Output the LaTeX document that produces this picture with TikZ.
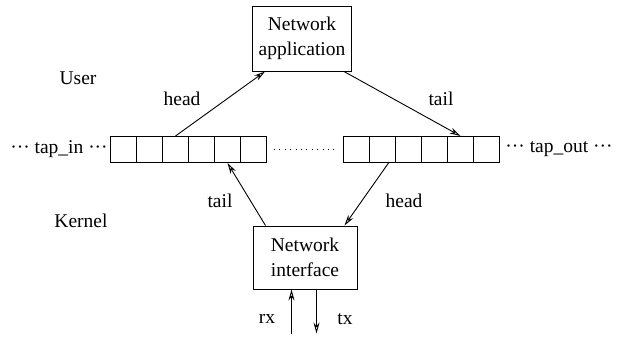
\documentclass[tikz,border=0pt]{standalone}
\usepackage{fontspec}
\setmainfont{Liberation Serif}
\newfontfamily\tms{Liberation Serif}
\usetikzlibrary{arrows.meta,calc}
\begin{document}
\begin{tikzpicture}[x=1pt,y=-1pt,
  every node/.style={font=\tms\fontsize{19.5}{24.5}\selectfont},
  box/.style={draw,line width=1pt,inner sep=0pt,align=center},
  cell/.style={draw,line width=1pt,minimum width=26pt,minimum height=26pt,inner sep=0pt,anchor=north west},
  lbl/.style={inner sep=0pt},
  conn/.style={line width=0.9pt,-{Stealth[open,length=11pt,width=6pt]}}]
\useasboundingbox (0,0) rectangle (617,346);
% boxes
\node[box,minimum width=99pt,minimum height=65pt] (app) at (302,38.5) {Network\\application};
\node[box,minimum width=104pt,minimum height=63pt] (nic) at (305,257.5) {Network\\interface};
% buffers
\foreach \i in {1,...,6} {
  \node[cell] (L\i) at ({110+26*(\i-1)},136) {};
  \node[cell] (R\i) at ({343+26*(\i-1)},136) {};
}
% dotted between buffers
\draw[line width=1pt,dash pattern=on 1pt off 4.4pt] ($(L6.east)+(7,0)$) -- ($(R1.west)+(-5,0)$);
% labels
\node[lbl] (tapin) at (59,149) {\textperiodcentered\textperiodcentered\textperiodcentered{} tap\_in \textperiodcentered\textperiodcentered\textperiodcentered};
\node[lbl] (tapout) at (559,149) {\textperiodcentered\textperiodcentered\textperiodcentered{} tap\_out \textperiodcentered\textperiodcentered\textperiodcentered};
\node[lbl] (user) at (78,78) {User};
\node[lbl] (kernel) at (81,221) {Kernel};
\node[lbl] (h1) at (182,99) {head};
\node[lbl] (t1) at (441,99) {tail};
\node[lbl] (t2) at (220,201) {tail};
\node[lbl] (h2) at (404,201) {head};
\node[lbl] (rx) at (267,319) {rx};
\node[lbl] (tx) at (345,319) {tx};
% connector end points
\coordinate (appL) at ($(app.south west)+(13,0)$);
\coordinate (appR) at ($(app.south east)+(-8,0)$);
\coordinate (nicL) at ($(nic.north west)+(13,0)$);
\coordinate (nicR) at ($(nic.north east)+(-13,0)$);
\coordinate (rxin) at ($(nic.south west)+(39,0)$);
\coordinate (txout) at ($(nic.south west)+(64,0)$);
\coordinate (rxs) at ($(rxin)+(0,44)$);
\coordinate (txe) at ($(txout)+(0,44)$);
\coordinate (r2s) at ($(R2.south)+(6,0)$);
% connectors
\draw[conn] (L3.north) -- (appL);
\draw[conn] (appR) -- (R5.north);
\draw[conn] (nicL) -- (L5.south);
\draw[conn] (r2s) -- (nicR);
\draw[conn] (rxs) -- (rxin);
\draw[conn] (txout) -- (txe);
\end{tikzpicture}
\end{document}
